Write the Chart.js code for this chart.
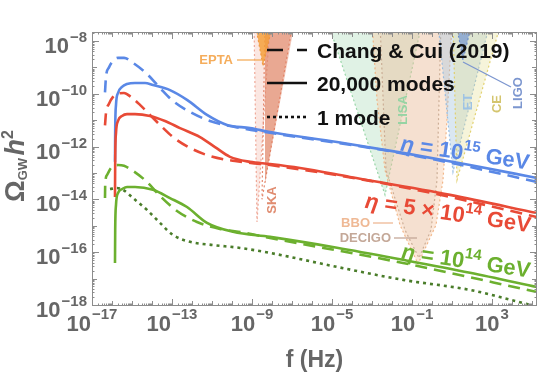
<!DOCTYPE html>
<html>
<head>
<meta charset="utf-8">
<script src="https://cdn.jsdelivr.net/npm/chart.js@4.4.0/dist/chart.umd.min.js"></script>
<style>html,body{margin:0;padding:0;background:#fff}canvas{display:block}</style>
</head>
<body>
<canvas id="chart" width="540" height="376"></canvas>
<script>
// ===== DATA (all values are log10: f in Hz, Omega_GW h^2) =====
const xRange = [-17, 5.25];
const yRange = [-18.04, -7.66];
const xTickExps = [-17, -13, -9, -5, -1, 3];
const yTickExps = [-18, -16, -14, -12, -10, -8];

// eta = 1e15 GeV
const blueSolidF = [-15.85, -15.84, -15.8, -15.7, -15.5, -15.25, -14.85, -14.35, -13.95, -13.1, -12.25, -11.25, -10.25, -9.1, -8.1, -4.75, -1.45, 1.9, 5.25];
const blueSolidO = [-12.58, -11.37, -10.42, -9.97, -9.74, -9.63, -9.59, -9.59, -9.67, -9.86, -10.23, -10.8, -11.18, -11.3, -11.45, -11.83, -12.24, -12.7, -13.19];
const blueDashF = [-16.35, -16.3, -16.15, -15.95, -15.7, -15.4, -14.95, -14.25, -13.6, -12.95, -12.1, -11.1, -9.85, -8.1, -3.1, 0.25, 5.25];
const blueDashO = [-9.95, -9.35, -9.0, -8.75, -8.64, -8.64, -8.83, -9.25, -9.78, -10.27, -10.69, -11.03, -11.26, -11.48, -12.05, -12.51, -13.34];

// eta = 5e14 GeV
const redSolidF = [-15.85, -15.84, -15.8, -15.7, -15.5, -15.25, -14.85, -14.1, -13.35, -12.6, -11.6, -10.85, -10.1, -9.1, -8.1, -6.6, -4.1, 0.9, 5.25];
const redSolidO = [-13.91, -12.51, -11.48, -11.03, -10.84, -10.77, -10.77, -10.84, -11.03, -11.3, -11.64, -12.02, -12.39, -12.58, -12.66, -12.81, -13.15, -13.83, -14.52];
const redDashF = [-16.35, -16.3, -16.15, -15.95, -15.7, -15.4, -15.05, -14.6, -14.1, -13.6, -12.95, -12.1, -11.1, -9.85, -8.1, -3.1, 0.9, 5.25];
const redDashO = [-11.2, -10.73, -10.38, -10.12, -9.99, -9.97, -10.12, -10.42, -10.8, -11.18, -11.64, -12.05, -12.36, -12.55, -12.7, -13.3, -13.91, -14.67];

// eta = 1e14 GeV
const greenSolidF = [-15.85, -15.84, -15.8, -15.7, -15.5, -15.25, -14.85, -13.95, -13.1, -12.25, -11.25, -9.95, -8.1, -4.75, -1.45, 1.9, 5.25];
const greenSolidO = [-16.41, -15.16, -14.21, -13.76, -13.61, -13.53, -13.53, -13.64, -13.95, -14.29, -14.89, -15.23, -15.42, -15.83, -16.29, -16.78, -17.32];
const greenDashF = [-16.35, -16.34, -16.25, -16.05, -15.7, -15.4, -14.95, -14.25, -13.6, -12.75, -11.75, -10.6, -9.35, -8.1, -1.45, 5.25];
const greenDashO = [-13.95, -13.45, -13.08, -12.81, -12.7, -12.73, -12.92, -13.34, -13.87, -14.44, -14.86, -15.12, -15.27, -15.46, -16.41, -17.51];
const greenDotF = [-16.1, -15.75, -15.45, -14.95, -14.25, -13.6, -12.95, -12.1, -10.95, -9.6, -8.1, -4.75, -1.45, 1.9, 3.4, 4.9];
const greenDotO = [-13.61, -13.57, -13.64, -13.95, -14.4, -14.89, -15.35, -15.61, -15.73, -15.84, -16.03, -16.56, -17.05, -17.43, -17.7, -18.0];

// detector sensitivity regions (lower boundary, filled up to the top)
const eptaF = [-8.85, -8.45, -7.95], eptaO = [-7.3, -8.95, -7.3];
const skaF = [-8.35, -8.5, -6.95], skaO = [-7.3, -14.0, -7.3];
const ptaF = [-8.9, -8.75, -8.1], ptaO = [-7.3, -14.86, -7.3];
const lisaF = [-5.2, -2.35, -0.5], lisaO = [-7.3, -13.83, -7.3];
const bboF = [-3.0, -2.75, -2.35, -1.6, -0.7, 0.2, 0.55, 0.75, 1.0];
const bboO = [-7.3, -10.23, -12.89, -14.97, -16.45, -14.97, -13.27, -10.99, -7.3];
const decigoF = [-2.6, -2.3, -1.35, -0.65, -0.05, 0.25, 0.45];
const decigoO = [-7.3, -12.89, -15.16, -16.22, -15.16, -13.27, -7.3];
const etF = [0.3, 1.05, 2.9], etO = [-7.3, -12.96, -7.3];
const ceF = [1.05, 1.25, 3.45], ceO = [-7.3, -13.27, -7.3];
const ligoF = [1.2, 1.55, 2.0], ligoO = [-7.3, -8.72, -7.3];

// ===== HELPERS =====
const FONT = '"Liberation Sans", Arial, Helvetica, sans-serif';
const p10 = (v) => Math.pow(10, v);
const pts = (fs, os) => fs.map((f, i) => ({ x: p10(f), y: p10(os[i]) }));

const BLUE = '#5a88e6', RED = '#e84a36', GREEN = '#6cb02f', DKGREEN = '#4a7d2a';

function curve(fs, os, color, dash, order) {
  return { data: pts(fs, os), borderColor: color, borderWidth: 2.6, borderDash: dash || [],
    pointRadius: 0, cubicInterpolationMode: 'monotone', fill: false, order };
}
function region(fs, os, fillCol, lineCol, order) {
  return { data: pts(fs, os), borderColor: lineCol, backgroundColor: fillCol, borderWidth: 1.2,
    borderDash: [2, 2.5], pointRadius: 0, tension: 0, fill: 'end', order };
}

function powLabel(ctx, exp, x, yBase, align, supDy) {
  const sup = exp < 0 ? '\u2212' + Math.abs(exp) : String(exp);
  ctx.font = 'bold 22px ' + FONT; const wb = ctx.measureText('10').width;
  ctx.font = 'bold 15px ' + FONT; const ws = ctx.measureText(sup).width;
  const w = wb + ws + 1;
  const x0 = align === 'right' ? x - w : x - w / 2;
  ctx.textAlign = 'left'; ctx.textBaseline = 'alphabetic';
  ctx.font = 'bold 22px ' + FONT; ctx.fillText('10', x0, yBase);
  ctx.font = 'bold 15px ' + FONT; ctx.fillText(sup, x0 + wb + 1, yBase + supDy);
}

// draw a run of [text, font, dy] pieces centred on (cx, cy), rotated by ang
function richText(ctx, parts, cx, cy, ang, color) {
  ctx.save();
  ctx.translate(cx, cy); ctx.rotate(ang);
  ctx.fillStyle = color; ctx.textAlign = 'left'; ctx.textBaseline = 'alphabetic';
  let w = 0;
  parts.forEach(p => { ctx.font = p[1]; w += ctx.measureText(p[0]).width; });
  let x = -w / 2;
  parts.forEach(p => { ctx.font = p[1]; ctx.fillText(p[0], x, p[2] || 0); x += ctx.measureText(p[0]).width; });
  ctx.restore();
}

function vLabel(ctx, text, cx, cy, color) {
  ctx.save();
  ctx.translate(cx, cy); ctx.rotate(-Math.PI / 2);
  ctx.font = 'bold 13px ' + FONT; ctx.fillStyle = color;
  ctx.textAlign = 'center'; ctx.textBaseline = 'middle';
  ctx.fillText(text, 0, 0);
  ctx.restore();
}

function seg(ctx, x1, y1, x2, y2, color, w, dash) {
  ctx.save();
  ctx.strokeStyle = color; ctx.lineWidth = w; ctx.setLineDash(dash || []);
  ctx.beginPath(); ctx.moveTo(x1, y1); ctx.lineTo(x2, y2); ctx.stroke();
  ctx.restore();
}

// ===== PLUGIN: frame, ticks, labels, legend, annotations =====
const decor = {
  id: 'decor',
  afterDatasetsDraw(chart) {
    const { ctx, chartArea: a, scales: { x, y } } = chart;
    ctx.save();

    // frame
    ctx.strokeStyle = '#8c8c8c'; ctx.lineWidth = 1;
    ctx.strokeRect(a.left + 0.5, a.top + 0.5, a.right - a.left - 1, a.bottom - a.top - 1);

    // log ticks on all four sides
    const marks = (lo, hi, labelled) => {
      const out = [];
      for (let d = Math.floor(lo); d <= Math.ceil(hi); d++) {
        for (let k = 1; k <= 9; k++) {
          const v = d + Math.log10(k);
          if (v < lo - 1e-9 || v > hi + 1e-9) continue;
          out.push({ v, len: k === 1 ? (labelled.includes(d) ? 7 : 5) : 2.5 });
        }
      }
      return out;
    };
    ctx.beginPath();
    marks(xRange[0], xRange[1], xTickExps).forEach(m => {
      const px = Math.round(x.getPixelForValue(p10(m.v))) + 0.5;
      ctx.moveTo(px, a.bottom); ctx.lineTo(px, a.bottom - m.len);
      ctx.moveTo(px, a.top); ctx.lineTo(px, a.top + m.len);
    });
    marks(yRange[0], yRange[1], yTickExps).forEach(m => {
      const py = Math.round(y.getPixelForValue(p10(m.v))) + 0.5;
      ctx.moveTo(a.left, py); ctx.lineTo(a.left + m.len, py);
      ctx.moveTo(a.right, py); ctx.lineTo(a.right - m.len, py);
    });
    ctx.stroke();

    // tick labels
    ctx.fillStyle = '#666';
    x.ticks.forEach(t => powLabel(ctx, Math.round(Math.log10(t.value)), x.getPixelForValue(t.value), 331, 'center', -12));
    y.ticks.forEach(t => {
      const py = y.getPixelForValue(t.value);
      powLabel(ctx, Math.round(Math.log10(t.value)), 87, py + 12, 'right', -11);
    });

    // axis titles
    ctx.font = 'bold 23px ' + FONT; ctx.textAlign = 'center'; ctx.textBaseline = 'alphabetic';
    ctx.fillText('f (Hz)', (a.left + a.right) / 2, 367);
    richText(ctx, [
      ['\u03A9', 'bold 27px ' + FONT, 0],
      ['GW', 'bold 13px ' + FONT, 3],
      ['\u2009', 'bold 13px ' + FONT, 0],
      ['h', 'italic bold 27px ' + FONT, 0],
      ['2', 'bold 16px ' + FONT, -11]
    ], 24, 166, -Math.PI / 2, '#666');

    // region labels
    ctx.font = 'bold 13px ' + FONT; ctx.textBaseline = 'middle'; ctx.textAlign = 'right';
    ctx.fillStyle = '#f5ad5c'; ctx.fillText('EPTA', 233, 60);
    seg(ctx, 237, 60, 262, 60, '#f5ad5c', 1.3);
    ctx.fillStyle = '#efb995'; ctx.fillText('BBO', 370, 223);
    seg(ctx, 373, 223, 393, 223, '#efb995', 1.3);
    ctx.fillStyle = '#c4a898'; ctx.fillText('DECIGO', 391, 238);
    seg(ctx, 394, 238, 417, 238, '#c4a898', 1.3);
    seg(ctx, 463, 62, 511, 87, '#7c96cf', 1.3);
    vLabel(ctx, 'SKA', 272, 200, '#e08c70');
    vLabel(ctx, 'LISA', 403, 110, '#96d4a4');
    vLabel(ctx, 'ET', 468, 102, '#9ec3e4');
    vLabel(ctx, 'CE', 497, 104, '#d4c56e');
    vLabel(ctx, 'LIGO', 518, 93, '#7c96cf');

    // legend
    seg(ctx, 267, 50, 307, 50, '#111', 2.6, [16, 14]);
    seg(ctx, 267, 83, 307, 83, '#111', 2.6);
    seg(ctx, 267, 117, 307, 117, '#111', 2.6, [3, 3]);
    ctx.fillStyle = '#111'; ctx.font = 'bold 21px ' + FONT;
    ctx.textAlign = 'left'; ctx.textBaseline = 'alphabetic';
    ctx.fillText('Chang & Cui (2019)', 317, 58);
    ctx.fillText('20,000 modes', 317, 91);
    ctx.fillText('1 mode', 317, 125);

    // eta labels along the curves
    const big = 'bold 22px ' + FONT, it = 'italic bold 22px ' + FONT, sm = 'bold 15px ' + FONT;
    const ang = 0.148;
    richText(ctx, [['\u03B7', it, 0], [' = 10', big, 0], ['15', sm, -10], [' GeV', big, 0]], 464, 160, ang, BLUE);
    richText(ctx, [['\u03B7', it, 0], [' = 5 \u00D7 10', big, 0], ['14', sm, -10], [' GeV', big, 0]], 447, 220, ang, RED);
    richText(ctx, [['\u03B7', it, 0], [' = 10', big, 0], ['14', sm, -10], [' GeV', big, 0]], 465, 268, ang, GREEN);

    ctx.restore();
  }
};

// ===== CHART =====
const datasets = [
  curve(greenDotF, greenDotO, DKGREEN, [3, 4], 1),
  curve(greenDashF, greenDashO, GREEN, [12, 7], 1),
  curve(greenSolidF, greenSolidO, GREEN, [], 1),
  curve(redDashF, redDashO, RED, [12, 7], 2),
  curve(redSolidF, redSolidO, RED, [], 2),
  curve(blueDashF, blueDashO, BLUE, [12, 7], 3),
  curve(blueSolidF, blueSolidO, BLUE, [], 3),
  region(ligoF, ligoO, 'rgba(90,130,210,0.55)', 'rgba(100,136,204,0.9)', 10),
  region(eptaF, eptaO, 'rgba(245,160,60,0.85)', 'rgba(240,150,60,0.9)', 11),
  region(ceF, ceO, 'rgba(228,220,140,0.32)', 'rgba(224,205,100,0.9)', 12),
  region(etF, etO, 'rgba(150,185,215,0.35)', 'rgba(143,184,224,0.9)', 13),
  region(decigoF, decigoO, 'rgba(190,160,140,0.10)', 'rgba(200,168,144,0.9)', 14),
  region(bboF, bboO, 'rgba(248,200,165,0.42)', 'rgba(240,176,128,0.9)', 15),
  region(lisaF, lisaO, 'rgba(160,215,175,0.32)', 'rgba(143,211,160,0.9)', 16),
  region(skaF, skaO, 'rgba(225,130,100,0.45)', 'rgba(225,125,95,0.9)', 17),
  region(ptaF, ptaO, 'rgba(240,170,150,0.28)', 'rgba(235,150,130,0.8)', 18)
];

new Chart(document.getElementById('chart').getContext('2d'), {
  type: 'line',
  data: { datasets },
  options: {
    responsive: false,
    animation: false,
    devicePixelRatio: 1,
    layout: { padding: { top: 32, right: 3, left: 0, bottom: 0 } },
    plugins: { legend: { display: false }, tooltip: { enabled: false } },
    scales: {
      x: {
        type: 'logarithmic', min: p10(xRange[0]), max: p10(xRange[1]), bounds: 'data',
        afterBuildTicks: (s) => { s.ticks = xTickExps.map(e => ({ value: p10(e) })); },
        afterFit: (s) => { s.height = 70; },
        grid: { display: false }, border: { display: false }, ticks: { display: false }
      },
      y: {
        type: 'logarithmic', min: p10(yRange[0]), max: p10(yRange[1]), bounds: 'data',
        afterBuildTicks: (s) => { s.ticks = yTickExps.map(e => ({ value: p10(e) })); },
        afterFit: (s) => { s.width = 92; },
        grid: { display: false }, border: { display: false }, ticks: { display: false }
      }
    }
  },
  plugins: [decor]
});
</script>
</body>
</html>
